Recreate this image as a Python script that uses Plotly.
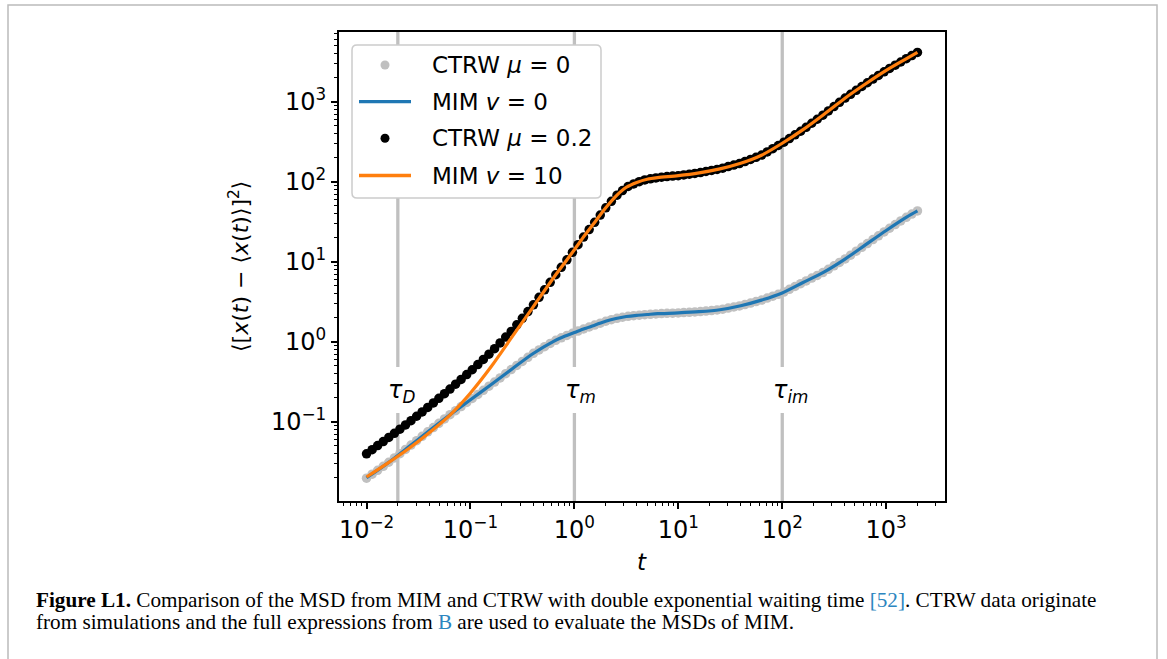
import numpy as np
import plotly.graph_objects as go

# ---------------- data (log10 units of the log axes) ----------------
t_log10 = [-2.000, -1.946, -1.893, -1.839, -1.786, -1.732, -1.679, -1.625, -1.572, -1.518,
           -1.465, -1.411, -1.357, -1.304, -1.250, -1.197, -1.143, -1.090, -1.036, -0.983,
           -0.929, -0.876, -0.822, -0.768, -0.715, -0.661, -0.608, -0.554, -0.501, -0.447,
           -0.394, -0.340, -0.287, -0.233, -0.179, -0.126, -0.072, -0.019, 0.035, 0.088,
           0.142, 0.195, 0.249, 0.302, 0.356, 0.410, 0.463, 0.517, 0.570, 0.624,
           0.677, 0.731, 0.784, 0.838, 0.891, 0.945, 0.999, 1.052, 1.106, 1.159,
           1.213, 1.266, 1.320, 1.373, 1.427, 1.480, 1.534, 1.588, 1.641, 1.695,
           1.748, 1.802, 1.855, 1.909, 1.962, 2.016, 2.069, 2.123, 2.177, 2.230,
           2.284, 2.337, 2.391, 2.444, 2.498, 2.551, 2.605, 2.658, 2.712, 2.766,
           2.819, 2.873, 2.926, 2.980, 3.033, 3.087, 3.140, 3.194, 3.247, 3.301]

ctrw_mu0_log10 = [-1.705, -1.655, -1.606, -1.556, -1.506, -1.452, -1.399, -1.345, -1.291, -1.236,
                  -1.182, -1.126, -1.072, -1.019, -0.965, -0.912, -0.861, -0.810, -0.759, -0.709,
                  -0.658, -0.607, -0.556, -0.504, -0.452, -0.399, -0.348, -0.296, -0.246, -0.195,
                  -0.145, -0.103, -0.062, -0.021, 0.018, 0.049, 0.079, 0.106, 0.133, 0.159,
                  0.184, 0.208, 0.232, 0.256, 0.275, 0.293, 0.306, 0.318, 0.326, 0.332,
                  0.338, 0.343, 0.348, 0.352, 0.355, 0.357, 0.360, 0.364, 0.368, 0.372,
                  0.377, 0.383, 0.390, 0.397, 0.407, 0.420, 0.434, 0.447, 0.464, 0.483,
                  0.502, 0.521, 0.545, 0.569, 0.593, 0.620, 0.655, 0.690, 0.725, 0.760,
                  0.795, 0.829, 0.864, 0.905, 0.948, 0.991, 1.035, 1.082, 1.131, 1.179,
                  1.227, 1.276, 1.323, 1.372, 1.418, 1.464, 1.509, 1.555, 1.595, 1.635]

ctrw_mu02_log10 = [-1.400, -1.349, -1.298, -1.247, -1.196, -1.144, -1.092, -1.039, -0.986, -0.931,
                   -0.877, -0.821, -0.764, -0.707, -0.649, -0.592, -0.531, -0.471, -0.410, -0.350,
                   -0.285, -0.221, -0.156, -0.087, -0.015, 0.058, 0.129, 0.211, 0.293, 0.377,
                   0.461, 0.555, 0.648, 0.742, 0.837, 0.930, 1.024, 1.117, 1.213, 1.308,
                   1.401, 1.492, 1.583, 1.673, 1.754, 1.831, 1.889, 1.940, 1.972, 2.000,
                   2.021, 2.036, 2.047, 2.056, 2.064, 2.070, 2.075, 2.084, 2.094, 2.103,
                   2.113, 2.127, 2.140, 2.153, 2.169, 2.188, 2.207, 2.226, 2.251, 2.278,
                   2.304, 2.332, 2.371, 2.412, 2.452, 2.494, 2.539, 2.585, 2.630, 2.679,
                   2.730, 2.780, 2.831, 2.884, 2.938, 2.991, 3.045, 3.092, 3.141, 3.189,
                   3.236, 3.282, 3.327, 3.373, 3.415, 3.455, 3.495, 3.536, 3.575, 3.615]

mim_t_log10 = [-2.0, -1.8, -1.6, -1.4, -1.2, -1.0, -0.8, -0.6, -0.4, -0.2, -0.1, 0.0, 0.1, 0.2,
               0.3, 0.4, 0.5, 0.6, 0.7, 0.8, 1.0, 1.2, 1.4, 1.6, 1.8, 2.0, 2.2, 2.4, 2.6, 2.8,
               3.0, 3.2, 3.301]
mim_v0_log10 = [-1.70, -1.52, -1.32, -1.115, -0.915, -0.725, -0.535, -0.34, -0.15, 0.005, 0.065,
                0.115, 0.165, 0.21, 0.255, 0.29, 0.315, 0.33, 0.34, 0.35, 0.36, 0.375, 0.40,
                0.45, 0.52, 0.61, 0.74, 0.87, 1.03, 1.21, 1.39, 1.56, 1.635]
mim_v10_log10 = [-1.69, -1.52, -1.34, -1.14, -0.92, -0.64, -0.31, 0.06, 0.43, 0.80, 0.975,
                 1.15, 1.33, 1.50, 1.67, 1.82, 1.93, 1.99, 2.03, 2.05, 2.075, 2.11, 2.16,
                 2.23, 2.33, 2.48, 2.65, 2.84, 3.04, 3.22, 3.39, 3.54, 3.615]

x_tick_exponents = [-2, -1, 0, 1, 2, 3]
y_tick_exponents = [-1, 0, 1, 2, 3]

tau_values = [0.02, 1.0, 100.0]
tau_labels = ["<i>τ</i><sub><i>D</i></sub>", "<i>τ</i><sub><i>m</i></sub>", "<i>τ</i><sub><i>im</i></sub>"]

legend_labels = ["CTRW <i>μ</i> = 0", "MIM <i>v</i> = 0", "CTRW <i>μ</i> = 0.2", "MIM <i>v</i> = 10"]

caption_line1 = ("<b>Figure L1.</b> Comparison of the MSD from MIM and CTRW with double exponential "
                 "waiting time <span style='color:#2c86c0'>[52]</span>. CTRW data originate")
caption_line2 = ("from simulations and the full expressions from <span style='color:#2c86c0'>B</span> "
                 "are used to evaluate the MSDs of MIM.")

# ---------------- layout geometry ----------------
W, H = 1167, 659
L, R, T, B = 339, 945, 32, 501
FONT = "DejaVu Sans"


def px(x):
    return (x - L) / (R - L)


def py(y):
    return (B - y) / (B - T)


GRAY = "#c0c0c0"
BLUE = "#1f77b4"
ORANGE = "#ff7f0e"

t = 10 ** np.array(t_log10)
tm = 10 ** np.array(mim_t_log10)

fig = go.Figure()
fig.add_trace(go.Scatter(x=t, y=10 ** np.array(ctrw_mu0_log10), mode="markers",
                         marker=dict(color=GRAY, size=9.5, line=dict(width=0)),
                         name=legend_labels[0]))
fig.add_trace(go.Scatter(x=tm, y=10 ** np.array(mim_v0_log10), mode="lines",
                         line=dict(color=BLUE, width=3.2, shape="spline", smoothing=0.8),
                         name=legend_labels[1]))
fig.add_trace(go.Scatter(x=t, y=10 ** np.array(ctrw_mu02_log10), mode="markers",
                         marker=dict(color="black", size=9.5, line=dict(width=0)),
                         name=legend_labels[2]))
fig.add_trace(go.Scatter(x=tm, y=10 ** np.array(mim_v10_log10), mode="lines",
                         line=dict(color=ORANGE, width=3.2, shape="spline", smoothing=0.8),
                         name=legend_labels[3]))

shapes = []
annotations = []

# vertical tau lines (broken where the label sits)
gap_lo, gap_hi = py(413), py(367)
label_y = py(391)
label_shift = [4, 6, 8]
for tv, lab, sh in zip(tau_values, tau_labels, label_shift):
    for y0, y1 in [(0, gap_lo), (gap_hi, 1)]:
        shapes.append(dict(type="line", xref="x", yref="y domain", x0=tv, x1=tv, y0=y0, y1=y1,
                           line=dict(color=GRAY, width=3.3), layer="below"))
    annotations.append(dict(x=np.log10(tv), y=label_y, xref="x", yref="paper", text=lab,
                            showarrow=False, xanchor="center", yanchor="middle", xshift=sh,
                            font=dict(family=FONT, size=24, color="black")))

# custom legend box (rounded)
bx0, by0, bx1, by1, r = 352, 45, 601, 198, 5
pts = [("M", bx0 + r, by0), ("L", bx1 - r, by0), ("Q", bx1, by0, bx1, by0 + r),
       ("L", bx1, by1 - r), ("Q", bx1, by1, bx1 - r, by1), ("L", bx0 + r, by1),
       ("Q", bx0, by1, bx0, by1 - r), ("L", bx0, by0 + r), ("Q", bx0, by0, bx0 + r, by0)]
path = ""
for p in pts:
    if p[0] == "Q":
        path += f"Q{px(p[1])},{py(p[2])} {px(p[3])},{py(p[4])} "
    else:
        path += f"{p[0]}{px(p[1])},{py(p[2])} "
path += "Z"
shapes.append(dict(type="path", xref="paper", yref="paper", path=path,
                   fillcolor="white", line=dict(color="#cccccc", width=1.5), layer="above"))

row_y = [65, 101.7, 138.3, 175.5]
sym_x0, sym_x1 = 359, 411
sym_kind = [("dot", GRAY), ("line", BLUE), ("dot", "black"), ("line", ORANGE)]
for (kind, col), yy, lab in zip(sym_kind, row_y, legend_labels):
    if kind == "dot":
        shapes.append(dict(type="circle", xref="paper", yref="paper", xsizemode="pixel",
                           ysizemode="pixel", xanchor=px((sym_x0 + sym_x1) / 2), yanchor=py(yy),
                           x0=-4.5, x1=4.5, y0=-4.5, y1=4.5, fillcolor=col,
                           line=dict(width=0), layer="above"))
    else:
        shapes.append(dict(type="line", xref="paper", yref="paper", x0=px(sym_x0), x1=px(sym_x1),
                           y0=py(yy), y1=py(yy), line=dict(color=col, width=3.3), layer="above"))
    annotations.append(dict(x=px(430), y=py(yy), xref="paper", yref="paper", text=lab,
                            showarrow=False, xanchor="left", yanchor="middle",
                            font=dict(family=FONT, size=23, color="black")))

# axis titles
annotations.append(dict(x=px(239), y=py(267), xref="paper", yref="paper",
                        text="⟨[<i>x</i>(<i>t</i>) − ⟨<i>x</i>(<i>t</i>)⟩]<sup>2</sup>⟩",
                        textangle=-90, showarrow=False, xanchor="center", yanchor="middle",
                        font=dict(family=FONT, size=22, color="black")))
annotations.append(dict(x=px(642), y=py(562), xref="paper", yref="paper", text="<i>t</i>",
                        showarrow=False, xanchor="center", yanchor="middle",
                        font=dict(family=FONT, size=23, color="black")))

# caption
for yy, txt in [(600, caption_line1), (622, caption_line2)]:
    annotations.append(dict(x=px(34), y=py(yy), xref="paper", yref="paper", text=txt,
                            showarrow=False, xanchor="left", yanchor="middle", align="left",
                            font=dict(family="Liberation Serif", size=21.2, color="black")))

# outer frame
shapes.append(dict(type="rect", xref="paper", yref="paper", x0=px(8), x1=px(1157),
                   y0=py(670), y1=py(5), line=dict(color="#bbbbbb", width=1.5),
                   fillcolor="rgba(0,0,0,0)", layer="below"))


def log_ticks(exps):
    vals = [10.0 ** e for e in exps]
    text = [f"10<sup>{'−' if e < 0 else ''}{abs(e)}</sup>" for e in exps]
    return vals, text


def minor_vals(lo, hi):
    out = []
    for e in range(lo, hi + 1):
        for m in range(2, 10):
            out.append(m * 10.0 ** e)
    return out


xv, xt = log_ticks(x_tick_exponents)
yv, yt = log_ticks(y_tick_exponents)

axis_common = dict(type="log", showline=True, linecolor="black", linewidth=1.8, mirror=True,
                   ticks="outside", ticklen=6, tickwidth=1.5, tickcolor="black",
                   tickmode="array", showgrid=False, zeroline=False,
                   tickfont=dict(family=FONT, size=24, color="black"))

fig.update_layout(
    width=W, height=H, autosize=False,
    margin=dict(l=L, r=W - R, t=T, b=H - B, pad=0),
    paper_bgcolor="white", plot_bgcolor="white",
    showlegend=False,
    xaxis=dict(range=[-2.265, 3.566], tickvals=xv, ticktext=xt,
               minor=dict(ticks="outside", ticklen=3.5, tickwidth=1.2, tickcolor="black",
                          tickmode="array", tickvals=minor_vals(-3, 3), showgrid=False),
               **axis_common),
    yaxis=dict(range=[-1.99, 3.87], tickvals=yv, ticktext=yt,
               minor=dict(ticks="outside", ticklen=3.5, tickwidth=1.2, tickcolor="black",
                          tickmode="array", tickvals=minor_vals(-2, 3), showgrid=False),
               **axis_common),
    shapes=shapes, annotations=annotations,
)

fig.write_html("out.html")
